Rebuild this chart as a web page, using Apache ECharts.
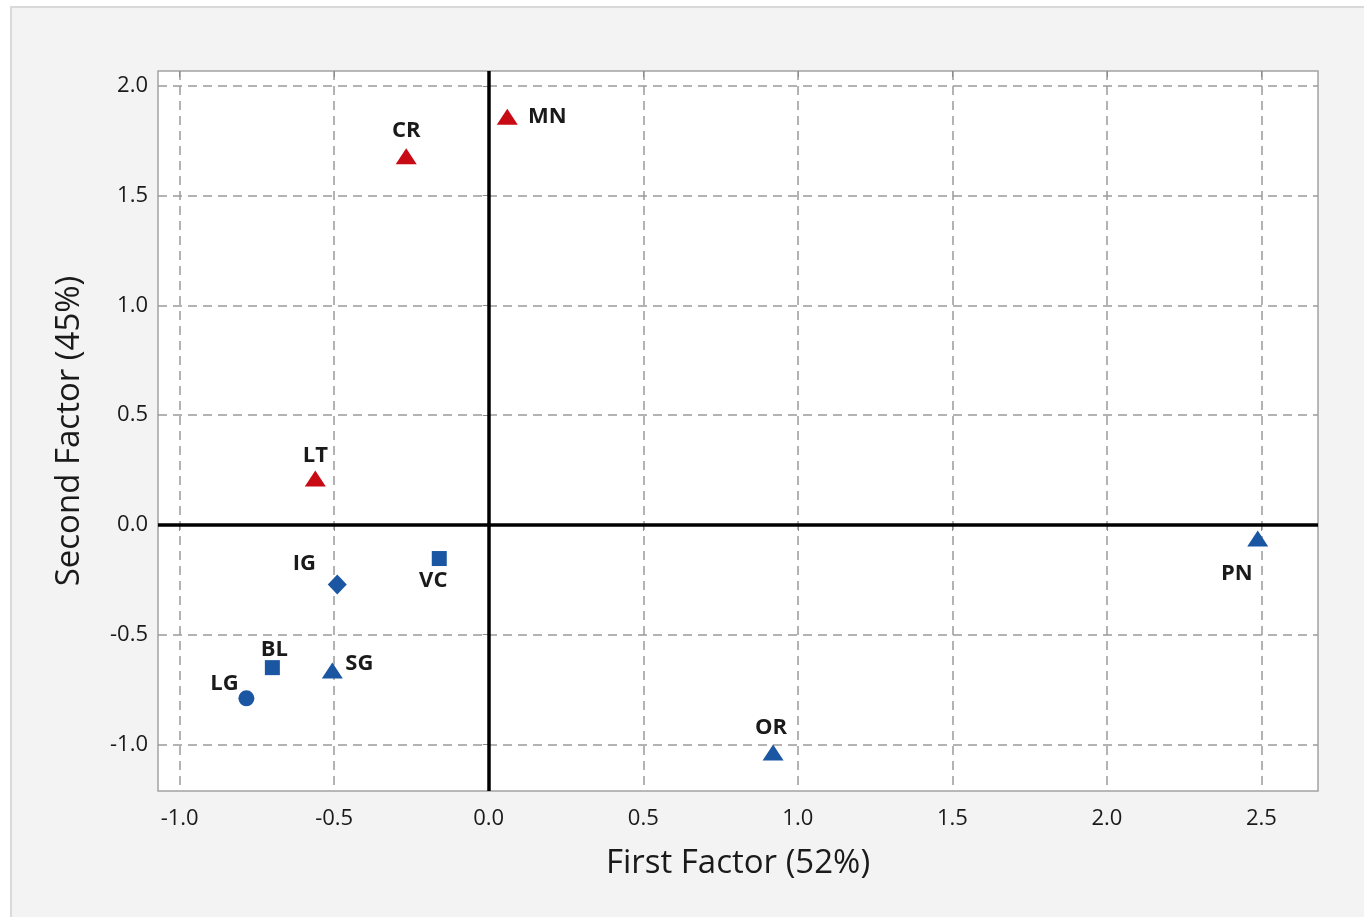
<!DOCTYPE html>
<html>
<head>
<meta charset="utf-8">
<script src="https://cdn.jsdelivr.net/npm/echarts@6/dist/echarts.min.js"></script>
<style>
html,body{margin:0;padding:0;background:#fff;width:1364px;height:917px;overflow:hidden;}
#panel{position:absolute;left:10px;top:6px;width:1364px;height:920px;background:#f3f3f3;border-left:2px solid #d9d9d9;border-top:2px solid #d9d9d9;}
#chart{position:absolute;left:0;top:0;width:1364px;height:917px;}
</style>
</head>
<body>
<div id="panel"></div>
<div id="chart"></div>
<script>
// Data
const names = ['MN','CR','LT','IG','VC','BL','SG','LG','OR','PN'];
const xValues = [0.06, -0.267, -0.561, -0.49, -0.16, -0.70, -0.506, -0.784, 0.92, 2.488];
const yValues = [1.86, 1.68, 0.212, -0.271, -0.153, -0.65, -0.663, -0.79, -1.037, -0.062];
const groups = ['redTri','redTri','redTri','blueDia','blueSq','blueSq','blueTri','blueCirc','blueTri','blueTri'];
const xTicks = [-1.0, -0.5, 0.0, 0.5, 1.0, 1.5, 2.0, 2.5];
const yTicks = [-1.0, -0.5, 0.0, 0.5, 1.0, 1.5, 2.0];
const xTitle = 'First Factor (52%)';
const yTitle = 'Second Factor (45%)';

// Styles
const RED = '#c80a14', BLUE = '#1b56a3';
const groupStyle = {
  redTri:  {symbol:'triangle', size:[21,16], color:RED},
  blueTri: {symbol:'triangle', size:[21,16], color:BLUE},
  blueSq:  {symbol:'rect', size:[15,15], color:BLUE},
  blueDia: {symbol:'diamond', size:[19,20], color:BLUE},
  blueCirc:{symbol:'circle', size:[16,16], color:BLUE}
};
const labelOffset = {
  MN:[40,0], CR:[0,-25], LT:[0,-23], IG:[-33,-21], VC:[-6,22],
  BL:[2,-18], SG:[27,-7], LG:[-22,-15], OR:[-2,-25], PN:[-21,35]
};
const FONT = 'Open Sans';
const TXT = '#1a1a1a';

const seriesList = [];
Object.keys(groupStyle).forEach(g => {
  const st = groupStyle[g];
  const data = [];
  names.forEach((n,i) => {
    if (groups[i] === g) {
      data.push({
        name:n, value:[xValues[i], yValues[i]],
        label:{offset:labelOffset[n]}
      });
    }
  });
  seriesList.push({
    type:'scatter', name:g, symbol:st.symbol, symbolSize:st.size,
    itemStyle:{color:st.color, opacity:1}, data:data, z:5,
    label:{show:true, position:'inside', formatter:p=>p.name,
      color:TXT, fontFamily:FONT, fontWeight:'bold', fontSize:22}
  });
});
seriesList[0].markLine = {
  silent:true, symbol:['none','none'], animation:false,
  label:{show:false},
  lineStyle:{color:'#000', width:3.5, type:'solid'},
  data:[{xAxis:0},{yAxis:0}]
};

const axisCommon = {
  splitNumber:7,
  axisLine:{show:false},
  splitLine:{show:true, lineStyle:{color:'#9a9a9a', width:1.5, type:[9,6]}},
};

const chart = echarts.init(document.getElementById('chart'), null, {renderer:'canvas'});
chart.setOption({
  animation:false,
  backgroundColor:'transparent',
  grid:{left:158, top:71, width:1160, height:720, show:true, backgroundColor:'#fff',
        borderColor:'#a3a3a3', borderWidth:1.5, containLabel:false},
  xAxis:[{
    type:'value', min:-1.07, max:2.683, ...axisCommon,
    axisTick:{show:true, inside:false, length:6, lineStyle:{color:'#8a8a8a'}, customValues:xTicks},
    axisLabel:{show:true, margin:17, color:TXT, fontFamily:FONT, fontSize:22,
      customValues:xTicks, formatter:v=>Number(v).toFixed(1)},
    name:xTitle, nameLocation:'middle', nameGap:56,
    nameTextStyle:{color:TXT, fontFamily:FONT, fontSize:33}
  },{
    type:'value', position:'top', min:-1.07, max:2.683, splitNumber:7,
    axisLine:{show:false}, splitLine:{show:false}, axisLabel:{show:false},
    axisTick:{show:true, inside:true, length:6, lineStyle:{color:'#8a8a8a'}, customValues:xTicks}
  }],
  yAxis:{
    type:'value', min:-1.212, max:2.068, ...axisCommon,
    axisTick:{show:true, inside:false, length:6, lineStyle:{color:'#8a8a8a'}, customValues:yTicks},
    axisLabel:{show:true, margin:10, color:TXT, fontFamily:FONT, fontSize:22,
      customValues:yTicks, formatter:v=>Number(v).toFixed(1)},
    name:yTitle, nameLocation:'middle', nameGap:72,
    nameTextStyle:{color:TXT, fontFamily:FONT, fontSize:33}
  },
  series:seriesList
});
</script>
</body>
</html>
